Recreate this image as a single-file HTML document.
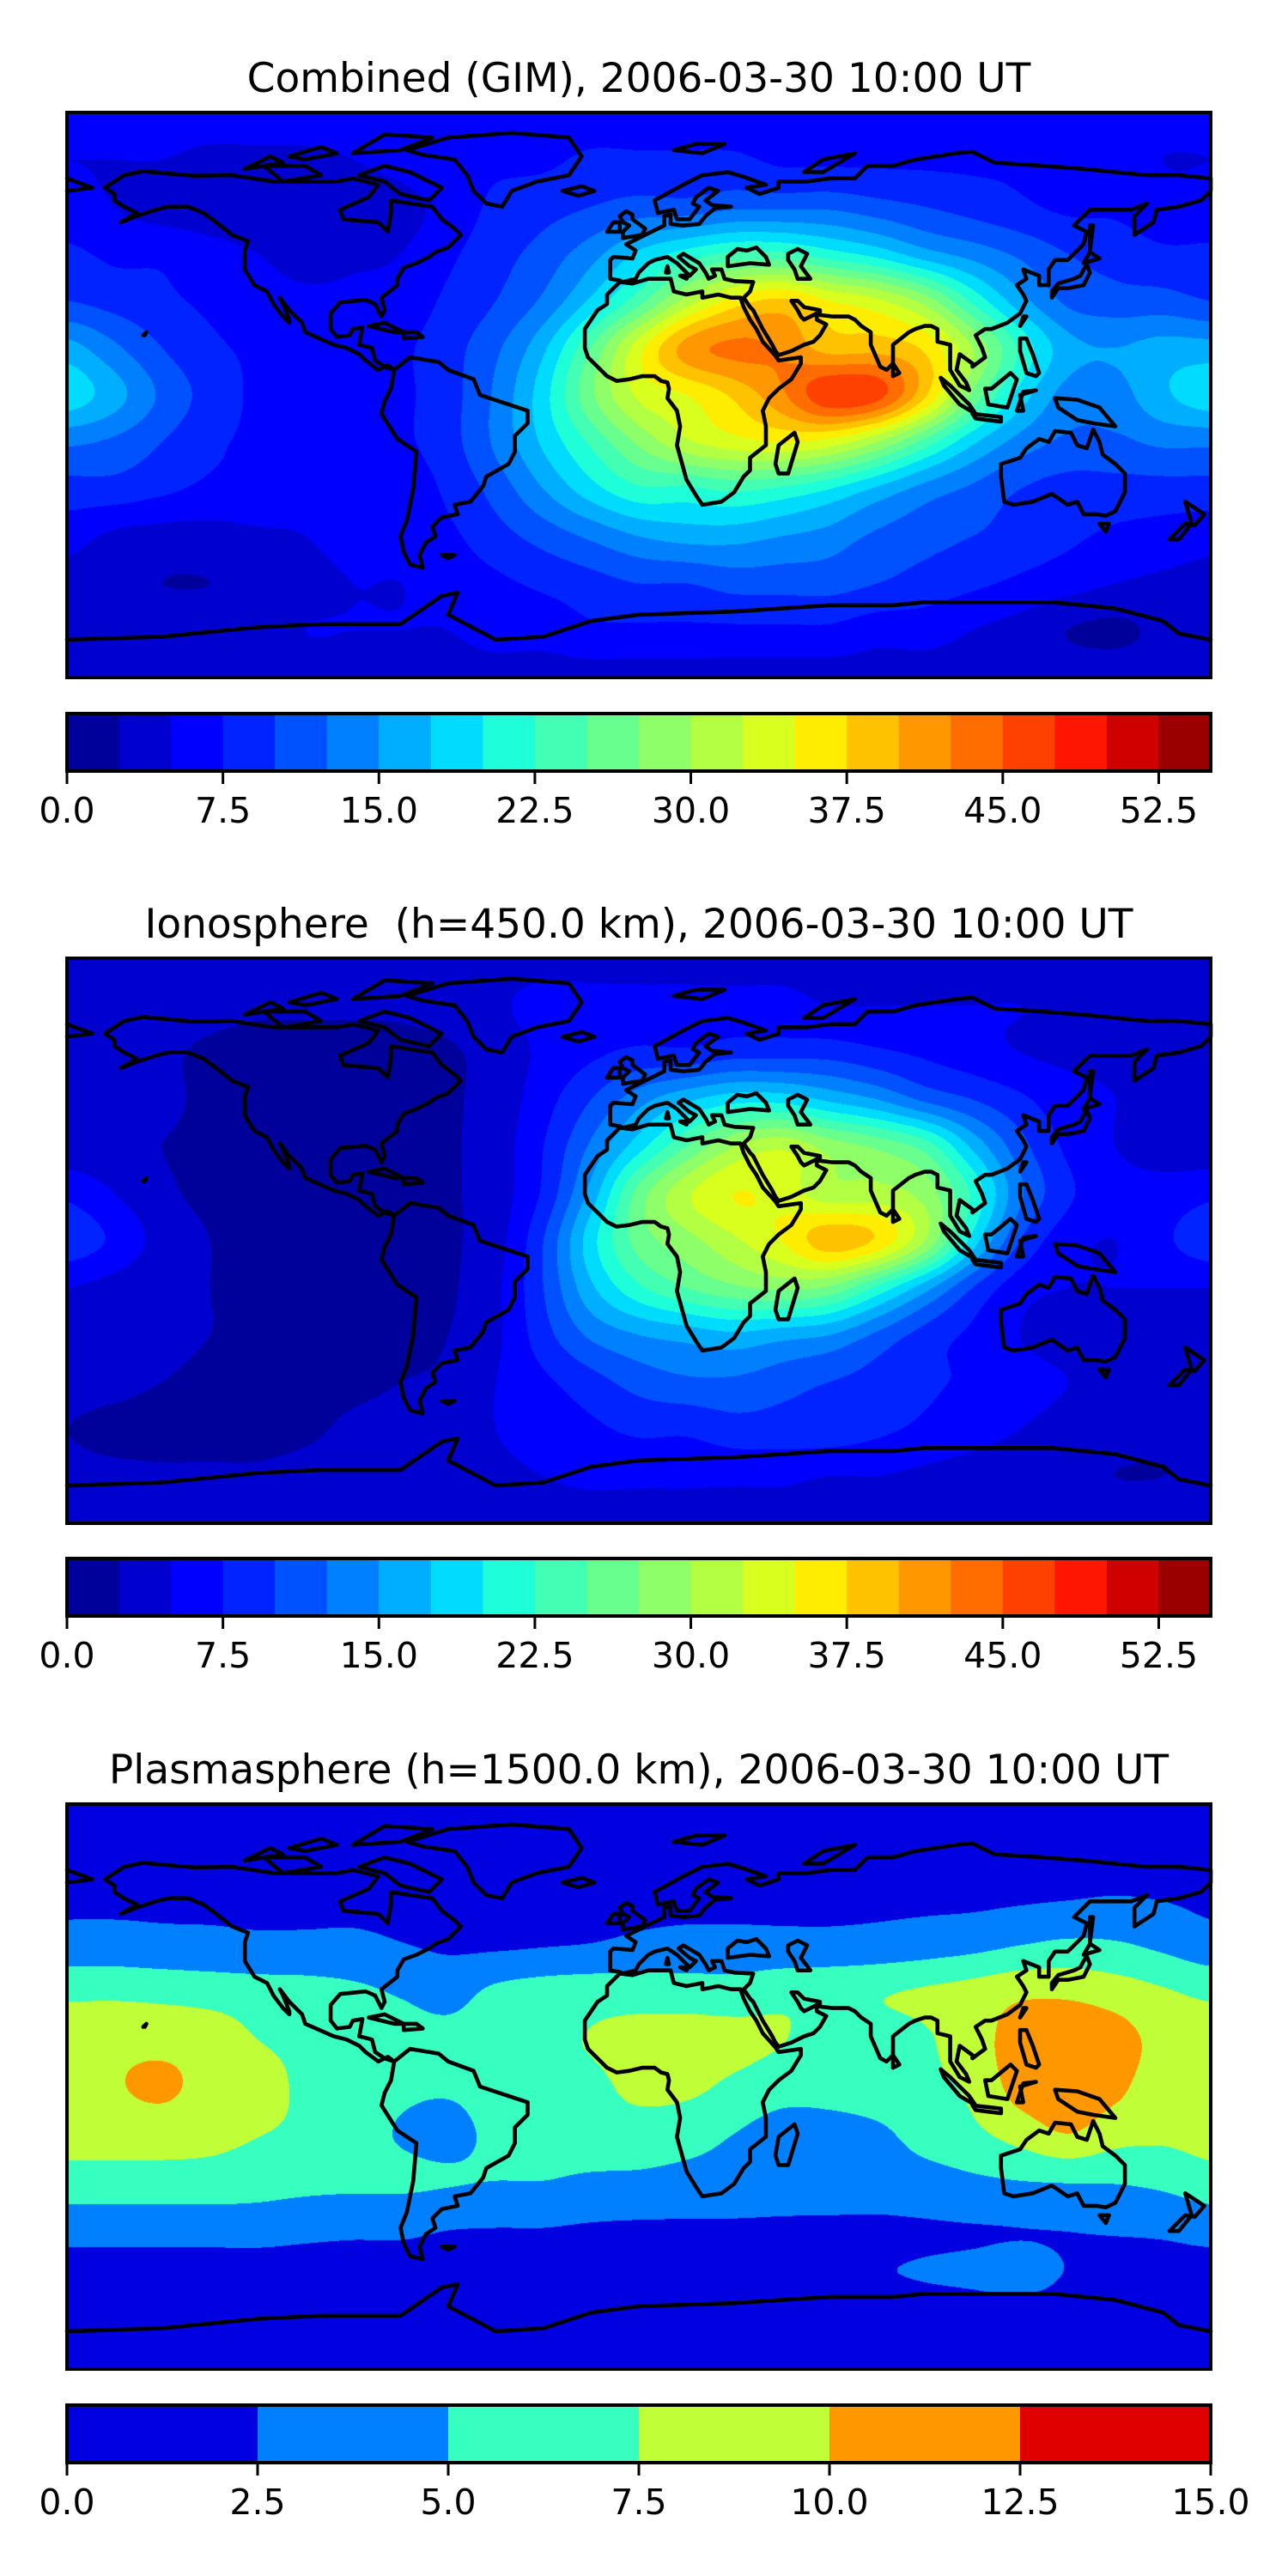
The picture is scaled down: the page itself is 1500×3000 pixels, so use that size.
<!DOCTYPE html>
<html><head><meta charset="utf-8">
<style>
html,body{margin:0;padding:0;background:#fff;}
#wrap{position:relative;width:1500px;height:3000px;overflow:hidden;background:#fff;}
canvas{position:absolute;left:78px;}
svg{position:absolute;left:0;top:0;}
text{font-family:"DejaVu Sans","Liberation Sans",sans-serif;fill:#000;white-space:pre;}
</style></head>
<body>
<div id="wrap">
<canvas id="c1" width="1332" height="658" style="top:131px"></canvas>
<canvas id="c2" width="1332" height="658" style="top:1116px"></canvas>
<canvas id="c3" width="1332" height="658" style="top:2101px"></canvas>
<svg id="ov" width="1500" height="3000"></svg>
</div>
<script>
// ---------- DATA ----------
const lons = [-180,-165,-150,-135,-120,-105,-90,-75,-60,-45,-30,-15,0,15,30,45,60,75,90,105,120,135,150,165,180];
const lats = [90,75,60,45,30,15,0,-15,-30,-45,-60,-75,-90];
const levelsTEC = [0,2.5,5,7.5,10,12.5,15,17.5,20,22.5,25,27.5,30,32.5,35,37.5,40,42.5,45,47.5,50,52.5,55];
const ticksTEC = ["0.0","7.5","15.0","22.5","30.0","37.5","45.0","52.5"];
const tickValsTEC = [0,7.5,15,22.5,30,37.5,45,52.5];
const levelsPlasma = [0,2.5,5,7.5,10,12.5,15];
const ticksPlasma = ["0.0","2.5","5.0","7.5","10.0","12.5","15.0"];
const tickValsPlasma = [0,2.5,5,7.5,10,12.5,15];

const gimGrid = [
[6,6,6,6,6,6,6,6,6,6,6,6,6,6,6,6,6,6,6,6,6,6,6,6,6],
[5,5,5,4.5,4.5,4.5,5,6,7,7,7,8,8,8,8,7,7,7,7,7,7,6,6,5,5],
[6,5,4,3.5,3,2.8,3,4,6,8,9,10,11,11,12,12,12,11,10,9,8,7,7,6,6],
[8,7,7,6,5,4,4.5,5,7,9,11,14,18,21,23,23,21,19,16,14,12,10,9,8,8],
[10,9,8,7,6,5.5,5.5,6,8,10,13,18,24,31,36,38,35,33,29,22,16,12,11,11,10],
[16,13,10,8,7,6,6,7,9,12,17,25,34,41,43,42,39,39,37,30,22,16,15,16,16],
[19,16,12,9,7,6,6,7,9,13,19,27,33,35,38,42,47,46,38,27,19,14,14,17,19],
[13,12,10,8,7,6,6,7,9,13,18,23,28,32,34,35,34,30,24,18,14,12,12,13,13],
[9,9,8,7,7,6,6,6,8,11,15,19,22,22,23,22,20,17,14,12,10,9,9,9,9],
[6,4.5,4,4,4.5,5,6,6,7,9,11,13,15,16,16,15,14,12,11,10,9,8,7,6.5,6],
[4,3,2.5,2.5,3,4,5,5,6,7,8,9,10,10,11,11,11,10,9,8,7,6,5,4.5,4],
[3,3.5,4,4,4,5,5,5,5,6,6,7,7,7,7,7,7,6,6,5,4,2.5,2,3,3],
[4,4,4,4,4,4,4,4,4,4,4,4,4,4,4,4,4,4,4,4,4,4,4,4,4]];

const ionoGrid = [
[4,4,4,4,4,4,4,4,4,4,4,4,4,4,4,4,4,4,4,4,4,4,4,4,4],
[4,4,4,3.5,3,3,3,3,3.5,4.5,6,6,6,6,6,6,5,5,5,5,5,4.5,4.5,4,4],
[4,3.5,3,2,1.5,1.5,1.5,1.8,2.2,3.5,5.5,7,8,8,9,9,9,8,7,6,5,4.5,4.5,4,4],
[4,3.5,3,2,1.5,1.5,1.5,1.8,2.2,3.5,6.5,10,14,17,19,19,17,15,12,10,8,6,5,4.5,4],
[3.5,3,2.5,2,1.5,1.5,1.5,1.8,2.2,3.8,7.5,13,19,25,30,32,29,27,24,17,11,7,5,4,3.5],
[7,5,3,2,1.5,1.5,1.5,1.8,2.2,3.8,8,16,26,32,35,34,31,31,29,22,13,8,6,6,7],
[9,7,4,2.5,1.5,1.5,1.5,1.8,2.2,4,10,19,26,29,32,35,39,37,30,19,10,6,5,7,9],
[5,4,3,2.5,2,1.5,1.5,1.8,2.2,4.5,10,17,22,25,27,28,27,22,16,10,6,5,5,5,5],
[3,3,3,2.5,2,2,2,2,2.5,4.5,9,13,15,16,17,16,15,12,9,7,5,4,3.5,3,3],
[3,3,2.5,2,2,2,2,2.5,3,5,7,9,11,12,12,11,10,9,8,7,6,5,4,3,3],
[2.5,2,1.5,1.5,1.5,2,3,3.5,4,5,6,7,8,8,9,9,9,8,7,6,5,4,3.5,3,2.5],
[3,3,3,3,3,3.5,4,4,4,4.5,5,5.5,5.5,5.5,5.5,5.5,5,5,4.5,4,3.5,3,2.5,2.5,3],
[4,4,4,4,4,4,4,4,4,4,4,4,4,4,4,4,4,4,4,4,4,4,4,4,4]];

const plasmaGrid = [
[1,1,1,1,1,1,1,1,1,1,1,1,1,1,1,1,1,1,1,1,1,1,1,1,1],
[1.5,1.5,1.5,1.5,1.5,1.5,1.5,1.5,1.5,1.5,1.5,1.5,1.5,1.5,1.5,1.5,1.5,1.5,1.5,1.5,1.5,1.5,1.5,1.5,1.5],
[2,2,2,2,2,2,2,2,2,2,2,2,2,2,2,2,2,2,2,2,2.2,2.4,2.6,2.4,2],
[3.5,3.5,3.3,3.2,3,3,3,2.6,2.2,2.2,2.4,2.6,3,3.2,3.2,3.2,3.2,3.4,3.8,4.3,5,5.5,5.3,4.5,3.5],
[7,7,6.8,6.5,6.2,6,5.5,4.8,4.2,5.5,6.2,6.5,6.5,6.3,6.2,6.8,7,7.3,7.8,8.5,9.5,9.5,8.8,7.8,7],
[8.8,9.2,9.2,8.8,7.5,6.8,6,5.8,5.6,6,7,7.6,8.2,8.5,8.2,7.6,6.6,6.6,7.2,9,11,11.8,11,9.2,8.8],
[9,9.8,10.4,9.2,8.5,7,6,5.5,5.3,6,6.5,7,8,8,7,6,6,6.5,7,8,11,11.6,10.6,8.6,9],
[8.5,8.6,8.6,8.2,7.6,7,6.2,4.8,4.2,5.6,6,6.5,6.5,6,5,4,4,4.5,6,7,8.5,10,8.5,8,8.5],
[6.5,6.5,6.5,6.5,6.2,5.8,5.6,5.5,5.2,5,5,4.6,4.5,4.2,4,3.6,3.6,3.6,4,4.6,5,5.2,5.2,5.6,6.5],
[3.5,3.5,3.5,3.5,3.5,3.2,3,3,2.6,2.5,2.5,2.3,2.2,2.2,2.2,2.2,2.2,2.2,2.3,2.4,2.5,2.6,2.8,3,3.5],
[1.5,1.5,1.5,1.5,1.5,1.5,1.5,1.5,1.5,1.5,1.5,1.5,1.5,1.5,1.5,1.8,2.2,2.4,2.6,2.8,3.1,2.4,1.6,1.5,1.5],
[1.5,1.5,1.5,1.5,1.5,1.5,1.5,1.5,1.5,1.5,1.5,1.5,1.5,1.5,1.5,1.5,1.5,1.5,1.5,1.5,1.5,1.5,1.5,1.5,1.5],
[1,1,1,1,1,1,1,1,1,1,1,1,1,1,1,1,1,1,1,1,1,1,1,1,1]];

const titles = ["Combined (GIM), 2006-03-30 10:00 UT","Ionosphere\u00a0 (h=450.0 km), 2006-03-30 10:00 UT","Plasmasphere (h=1500.0 km), 2006-03-30 10:00 UT"];

// coastlines (lon,lat)
const coasts = [
[[-168,66],[-162,70],[-156,71.3],[-140,69.8],[-128,70],[-115,68],[-95,68],[-90,69],[-82,67],[-85,63],[-94,59],[-93,56],[-82,55],[-79,52],[-78,58],[-78,62],[-72,61],[-65,60],[-62,56],[-58,53],[-56,51],[-60,47],[-64,45.5],[-66,44],[-70,42],[-74,40.5],[-76,37],[-76,35],[-81,31],[-80,27],[-81,25],[-83,29],[-86,30.3],[-89,30],[-94,29.5],[-97,26],[-97,21],[-95,18.5],[-91,19],[-90,21],[-87,21.5],[-88,16],[-84,15],[-83,11],[-80,9],[-77,8],[-79,9.5],[-82,8],[-86,11],[-88,13],[-92,15],[-96,16],[-105,20],[-106,23],[-110,27],[-113,31],[-112,29],[-110,24],[-110,23],[-112,25],[-115,29],[-117,33],[-121,35],[-124,40],[-124,46],[-123,49],[-128,51],[-133,55],[-137,58],[-142,60],[-148,60],[-152,59],[-158,57],[-163,55],[-158,58],[-162,60],[-165,62],[-165,64],[-168,66]],
[[-73,78],[-60,82],[-40,83.5],[-22,82],[-18,76],[-22,70],[-32,68],[-40,65],[-43,60],[-48,61],[-52,65],[-54,70],[-58,75],[-68,76.5],[-73,78]],
[[-80,73],[-72,71],[-62,66],[-66,62],[-75,64],[-80,68],[-88,70],[-80,73]],
[[-118,73],[-105,73],[-100,70],[-112,68],[-118,73]],
[[-90,77],[-80,83],[-65,82],[-75,78],[-90,77]],
[[-110,76],[-100,79],[-95,77],[-105,75],[-110,76]],
[[-124,72],[-116,76],[-112,74],[-124,72]],
[[-80,9],[-77,8],[-72,12],[-63,10.5],[-60,8],[-52,5],[-50,0],[-44,-2],[-35,-5],[-35,-9],[-39,-13],[-39,-18],[-41,-22],[-48,-26],[-49,-29],[-53,-34],[-58,-35],[-57,-38],[-62,-39],[-65,-42],[-64,-45],[-67,-47],[-69,-51],[-68,-55],[-72,-54],[-74,-50],[-75,-45],[-73,-40],[-71,-30],[-70,-18],[-76,-14],[-81,-6],[-80,-2],[-78,2],[-77,8]],
[[-9,43],[-8,44],[-2,43.5],[-1,46],[-4,48],[-1,49.5],[2,51],[4,52],[8,54],[8,57],[10,57.5],[10,54.5],[14,54],[19,54.5],[21,57],[24,59.5],[29,60],[23,60.5],[21,62],[25,65],[22,66],[18,63],[17,61],[19,60],[16,56],[12,56],[11,59],[6,58],[5,62],[14,67],[20,70],[28,71],[33,69.5],[40,67],[34,66],[38,64],[44,66],[44,68],[53,68],[60,69],[68,69],[72,73],[80,73],[87,75],[100,77],[105,77.5],[112,74],[127,73],[140,72],[150,71],[160,70],[170,70],[180,69],[180,65],[177,62],[170,60],[163,59],[162,55],[156,51],[156,57],[160,61],[155,59],[142,59],[137,54],[141,52],[140,48],[135,43],[131,43],[129,40],[129,35],[126,35],[126,38],[121,40],[122,37],[119,35],[121,32],[122,30],[120,26],[116,23],[111,21],[109,21],[106,19],[108,15],[109,12],[105,9],[105,10],[101,13],[100,8],[103,4],[104,1.5],[101,3],[98,8],[98,16],[94,17],[94,21],[92,22],[90,22],[87,21],[85,20],[80,16],[80,10],[78,8],[76,9],[73,16],[73,20],[70,22],[68,24],[66,25],[61,25],[57,25.5],[57,27],[52,28],[50,30],[48,30],[50,27],[51,25],[52,24],[56,26],[56,24],[59,22.5],[57,19],[55,17],[52,16],[48,14],[44,12.7],[43,14],[42,16],[39,21],[36,27],[35,28],[33,31],[35,33],[36,36],[30,36.3],[27,37],[26,40],[23,40],[24,38],[22,37],[21,39],[19,42],[14,45],[12.5,44],[16,41],[18,40],[16,38],[12,42],[9,44],[5,43],[3,42],[0,39],[-1,37],[-5,36],[-6,36.5],[-9,37],[-9,43]],
[[-180,69],[-172,66],[-180,65]],
[[28,41],[28,44],[31,46.5],[34,46],[37,47],[40,44],[41,41.5],[35,42],[28,41]],
[[47,45],[50,46.5],[53,45],[51,41],[54,37],[50,37],[49,40],[47,43],[47,45]],
[[-6,36],[-10,32],[-10,29],[-13,27],[-17,21],[-17,15],[-16,12],[-13,9],[-10,6],[-7,4.5],[-3,5],[1,6],[5,6],[7,4.5],[9,4],[9.5,2],[9,-1],[12,-5],[13,-10],[12,-16],[15,-27],[18,-32],[20,-35],[26,-34],[30,-31],[33,-26],[35,-24],[35,-20],[40,-16],[40,-10],[39,-5],[41,-1],[44,2],[48,5],[51,10],[51,12],[44,11],[43,12.5],[39,17],[37,21],[35,24],[33,28],[32,31],[29,31],[25,32],[20,31],[20,33],[15,32],[11,33],[10,37],[3,37],[-2,35.5],[-6,36]],
[[44,-25],[47,-25],[50,-15],[49,-12],[44,-16],[43,-22],[44,-25]],
[[114,-22],[114,-26],[115,-34],[118,-35],[124,-34],[130,-31.5],[135,-35],[138,-34],[140,-38],[144,-38],[147,-38.5],[150,-37],[153,-31],[153,-25],[150,-22],[146,-19],[145,-15],[143,-11],[142,-14],[141,-17],[138,-16],[136,-12],[131,-11.5],[129,-15],[126,-14],[122,-17],[120,-20],[114,-22]],
[[145,-41],[148,-41],[147,-43.5],[145,-41]],
[[172,-34],[178,-38],[175,-41.5],[172,-41],[167,-46],[170,-46],[174,-41],[172,-34]],
[[-180,-78],[-150,-77],[-120,-74],[-100,-73],[-75,-73],[-62,-64],[-57,-63],[-60,-70],[-45,-78],[-30,-77],[-15,-72],[0,-70],[30,-69],[60,-67],[80,-67],[90,-66],[110,-66],[130,-66],[150,-68],[165,-72],[170,-76],[180,-78]],
[[130,31],[132,34],[135,34],[140,35],[142,39],[141,41.5],[140,40],[139,38],[137,37],[132,35.5],[130,33],[130,31]],
[[140,42],[145,43.5],[142,45.5],[140,42]],
[[-5,50],[1,51],[2,53],[-2,56],[-2,57.5],[-4,58.5],[-6,57],[-5,55],[-3,54],[-5,52],[-5,50]],
[[-10,52],[-6,52],[-6,55],[-8,55],[-10,52]],
[[95,5.5],[98,3],[104,-3],[106,-6],[101,-3],[96,3],[95,5.5]],
[[105,-6],[114,-7],[114,-8.5],[106,-7.5],[105,-6]],
[[109,2],[111,2],[117,7],[119,5],[116,-4],[110,-3],[109,2]],
[[119,-5],[121,1],[125,1.5],[120,0],[121,-5],[119,-5]],
[[131,-1],[138,-1.5],[145,-4],[150,-10],[143,-9],[138,-8],[132,-4],[131,-1]],
[[120,18],[122,18],[124,13],[126,7],[125,6],[122,7],[120,14],[120,18]],
[[80,10],[82,7],[80,6],[80,10]],
[[120,22],[122,25],[121,25],[120,22]],
[[-85,22],[-77,20],[-74,20],[-80,23],[-85,22]],
[[-74,18],[-68,18.5],[-70,20],[-74,20],[-74,18]],
[[-24,65],[-18,66.5],[-14,65],[-19,63.5],[-24,65]],
[[11,78],[18,80],[27,80],[20,77],[11,78]],
[[52,71],[58,75],[68,77],[58,71],[52,71]],
[[142,46],[143,54],[142,54],[142,46]],
[[-156,19],[-155,20],[-155.5,19],[-156,19]],
[[-62,-51],[-58,-51],[-60,-52],[-62,-51]],
[[9,41],[9.5,39],[8.5,39],[9,41]],
[[13,38],[15.5,38],[15,37],[13,38]]
];

// ---------- helpers ----------
const X0=78, W=1332, H=658;
const mapTops=[131,1116,2101];
const cbTops=[831,1815,2801];
const CBH=67;
function xLon(lon){return X0+(lon+180)/360*W;}
function yLat(lat,top){return top+(90-lat)/180*H;}
function jetC(x){
  function seg(pts){for(let i=1;i<pts.length;i++){if(x<=pts[i][0]){const a=pts[i-1],b=pts[i];return a[1]+(b[1]-a[1])*(x-a[0])/(b[0]-a[0]);}}return pts[pts.length-1][1];}
  const r=seg([[0,0],[0.35,0],[0.66,1],[0.89,1],[1,0.5]]);
  const g=seg([[0,0],[0.125,0],[0.375,1],[0.64,1],[0.91,0],[1,0]]);
  const b=seg([[0,0.5],[0.11,1],[0.34,1],[0.65,0],[1,0]]);
  return [Math.round(r*255),Math.round(g*255),Math.round(b*255)];
}
function bandColors(levels){const n=levels.length-1;const out=[];for(let i=0;i<n;i++)out.push(jetC((i+0.5)/n));return out;}
function cr(p0,p1,p2,p3,t){return 0.5*((2*p1)+(-p0+p2)*t+(2*p0-5*p1+4*p2-p3)*t*t+(-p0+3*p1-3*p2+p3)*t*t*t);}
function sample(grid,gx,gy){
  const nr=grid.length,nc=grid[0].length;
  const ix=Math.floor(gx),iy=Math.floor(gy);const tx=gx-ix,ty=gy-iy;
  const rows=[];
  for(let j=-1;j<=2;j++){
    const r=grid[Math.min(nr-1,Math.max(0,iy+j))];
    const c=k=>r[Math.min(nc-1,Math.max(0,ix+k))];
    rows.push(cr(c(-1),c(0),c(1),c(2),tx));
  }
  return cr(rows[0],rows[1],rows[2],rows[3],ty);
}
function drawField(id,grid,levels){
  const cv=document.getElementById(id),ctx=cv.getContext('2d');
  const img=ctx.createImageData(W,H);const cols=bandColors(levels);
  const n=levels.length-1;
  for(let py=0;py<H;py++){
    const lat=90-(py+0.5)/H*180;const gy=(90-lat)/15;
    for(let px=0;px<W;px++){
      const lon=-180+(px+0.5)/W*360;const gx=(lon+180)/15;
      const v=sample(grid,gx,gy);
      let k=0;while(k<n-1&&v>=levels[k+1])k++;
      const c=cols[k];const o=(py*W+px)*4;
      img.data[o]=c[0];img.data[o+1]=c[1];img.data[o+2]=c[2];img.data[o+3]=255;
    }
  }
  ctx.putImageData(img,0,0);
}
drawField('c1',gimGrid,levelsTEC);
drawField('c2',ionoGrid,levelsTEC);
drawField('c3',plasmaGrid,levelsPlasma);

const NS='http://www.w3.org/2000/svg';
const ov=document.getElementById('ov');
function mk(tag,attrs,parent){const e=document.createElementNS(NS,tag);for(const k in attrs)e.setAttribute(k,attrs[k]);(parent||ov).appendChild(e);return e;}

const panelNames=['gim','ionosphere','plasmasphere'];
for(let p=0;p<3;p++){
  const top=mapTops[p];
  const g=mk('g',{});
  
  
  const t=mk('text',{x:744,y:top-24,'font-size':47,'text-anchor':'middle'},g);
  t.textContent=titles[p];
  
  
  const cg=mk('g',{fill:'none',stroke:'#000','stroke-width':4.6,'stroke-linejoin':'round','stroke-linecap':'round'},g);
  
  
  for(const poly of coasts){
    const d=poly.map((q,i)=>(i?'L':'M')+xLon(q[0]).toFixed(1)+' '+yLat(q[1],top).toFixed(1)).join('');
    const pe=mk('path',{d:d},cg);
    
    
  }
  const fr=mk('rect',{x:X0,y:top,width:W,height:H,fill:'none',stroke:'#000','stroke-width':4},g);
  
  
  // colorbar
  const levels=p<2?levelsTEC:levelsPlasma;
  const tickVals=p<2?tickValsTEC:tickValsPlasma;
  const tickLabels=p<2?ticksTEC:ticksPlasma;
  const cols=bandColors(levels);
  const vmin=levels[0],vmax=levels[levels.length-1];
  const xv=v=>X0+(v-vmin)/(vmax-vmin)*W;
  const cbg=mk('g',{},g);
  
  
  const cbTop=cbTops[p];
  for(let i=0;i<cols.length;i++){
    const c=cols[i];
    const r=mk('rect',{x:xv(levels[i]).toFixed(2),y:cbTop,width:(xv(levels[i+1])-xv(levels[i])+0.6).toFixed(2),height:CBH,fill:'rgb('+c.join(',')+')'},cbg);
    
    
  }
  const cbf=mk('rect',{x:X0,y:cbTop,width:W,height:CBH,fill:'none',stroke:'#000','stroke-width':4},cbg);
  
  
  for(let i=0;i<tickVals.length;i++){
    const x=xv(tickVals[i]);
    const tk=mk('line',{x1:x,x2:x,y1:cbTop+CBH,y2:cbTop+CBH+15,stroke:'#000','stroke-width':3},cbg);
    
    
    const tl=mk('text',{x:x,y:cbTop+CBH+60,'font-size':41,'text-anchor':'middle'},cbg);
    tl.textContent=tickLabels[i];
    
    
  }
}
</script>
</body></html>
